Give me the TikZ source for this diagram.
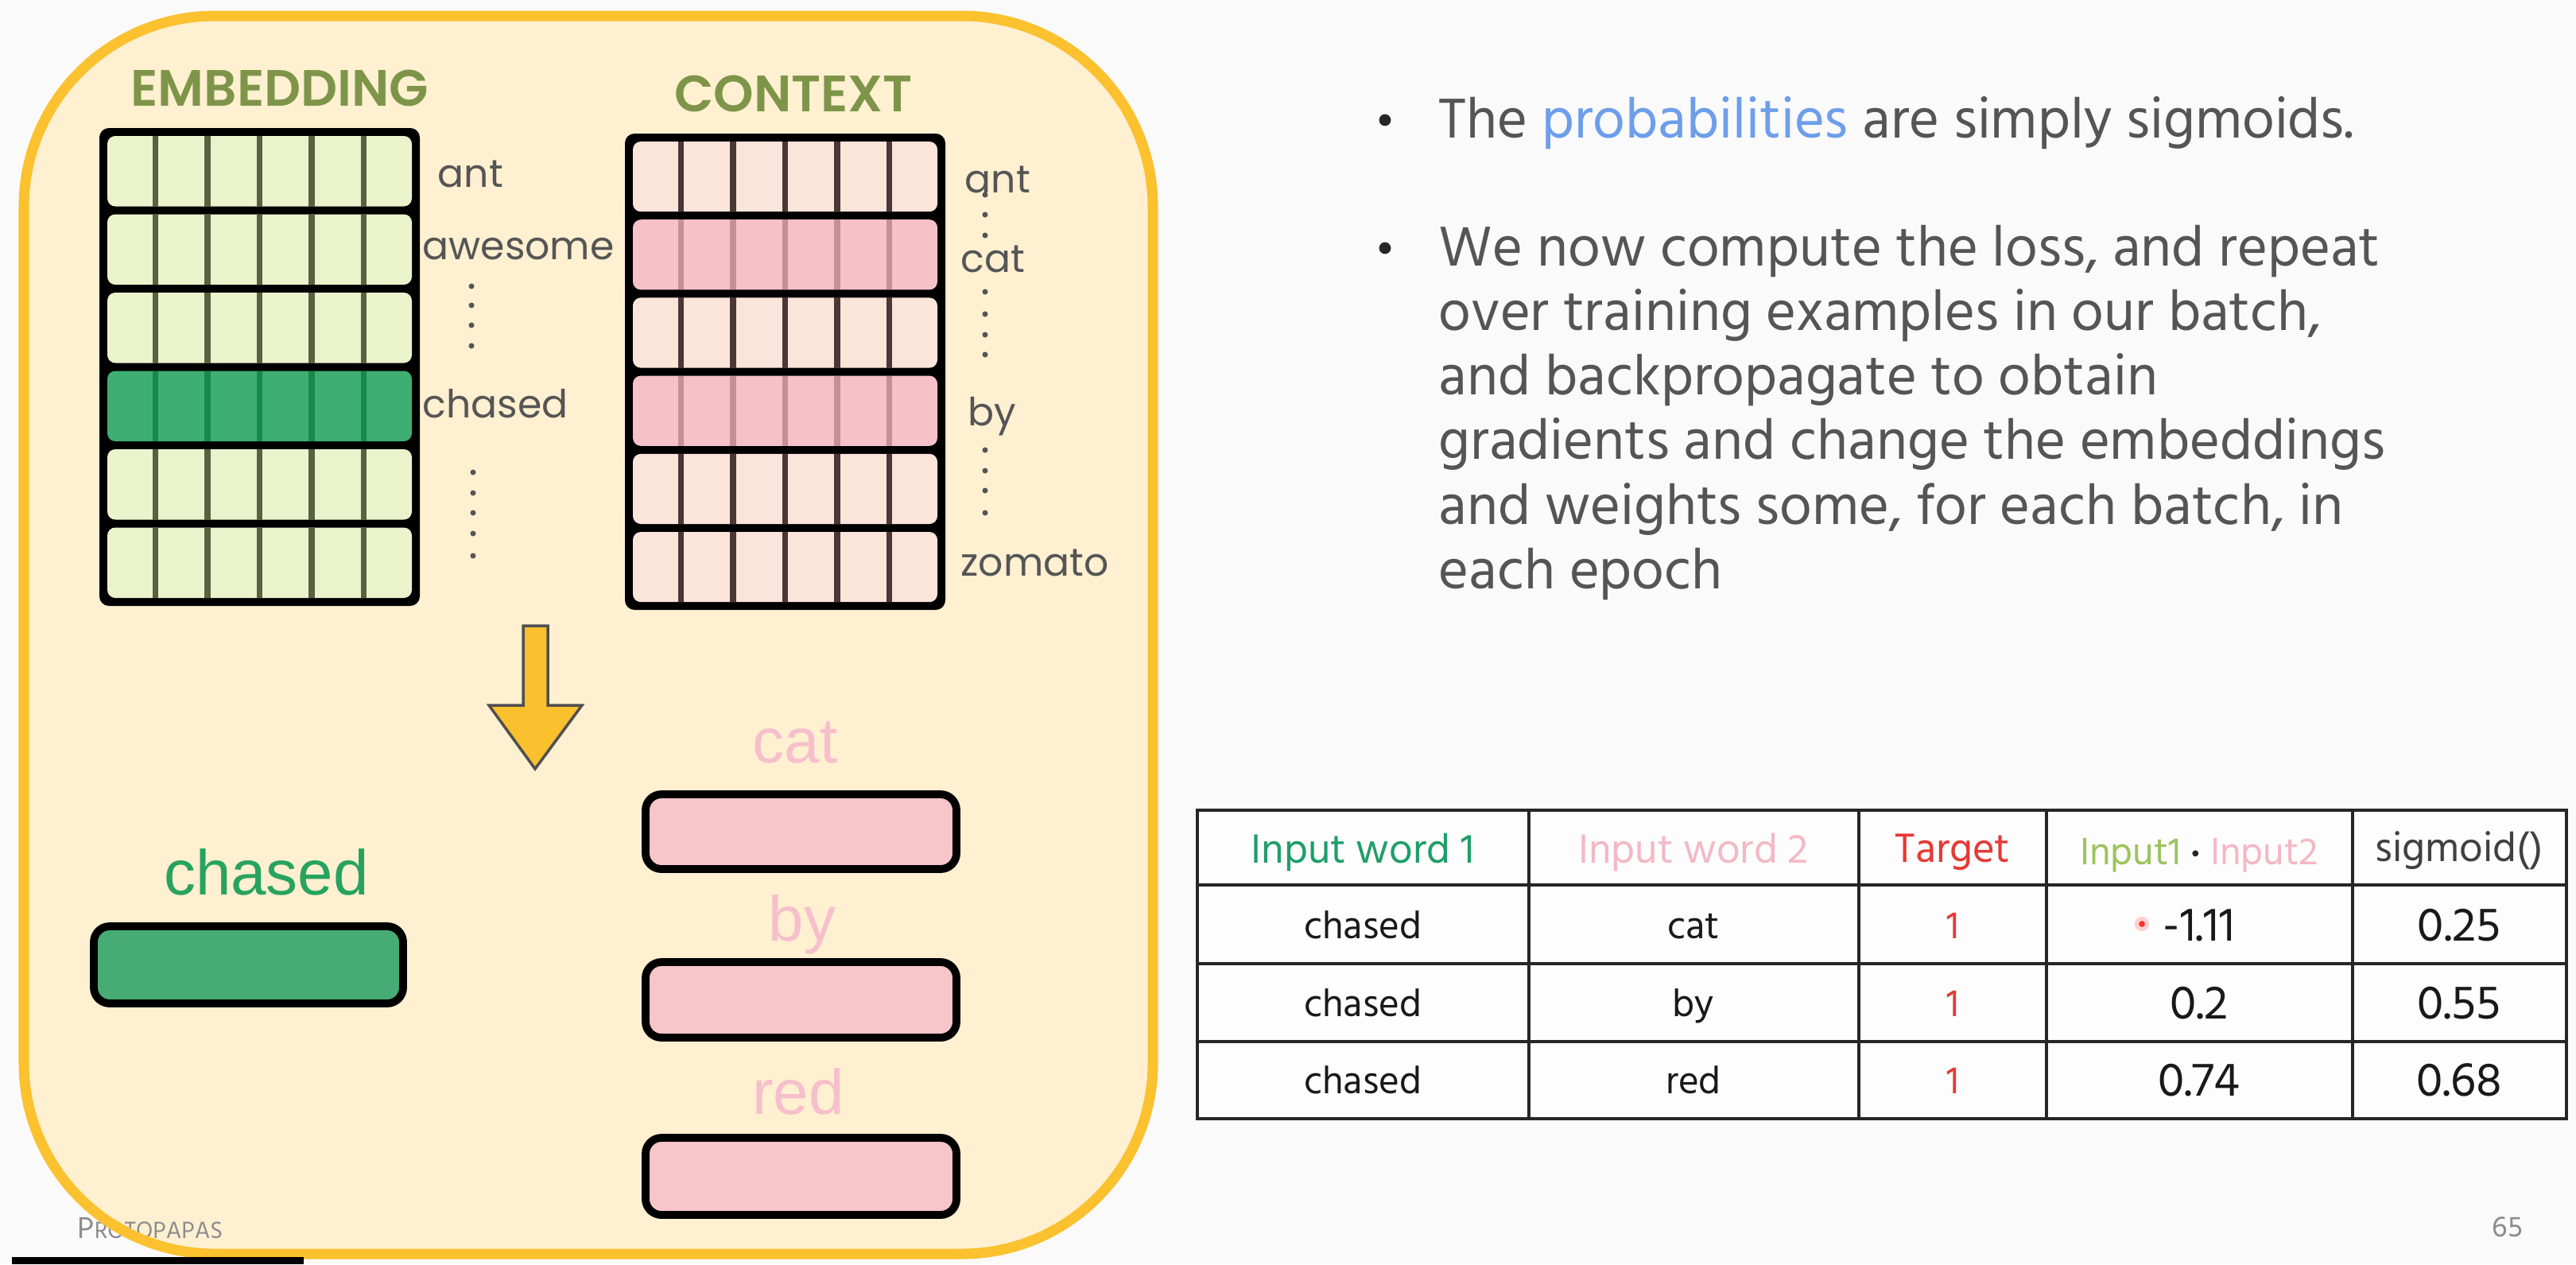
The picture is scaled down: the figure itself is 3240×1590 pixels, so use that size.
\documentclass[tikz,border=0pt]{standalone}
\usepackage{fontspec}
\newfontfamily\hind{Hind Madurai}
\newfontfamily\pop{Poppins}
\newfontfamily\popsb{Poppins SemiBold}
\newfontfamily\lib{Liberation Sans}
\definecolor{bg}{HTML}{FAFAFA}
\definecolor{boxfill}{HTML}{FEF0D1}
\definecolor{boxline}{HTML}{FBC12E}
\definecolor{embl}{HTML}{EBF3CD}
\definecolor{embd}{HTML}{3EAE73}
\definecolor{embdiv}{HTML}{5A6142}
\definecolor{embddiv}{HTML}{168A48}
\definecolor{ctxl}{HTML}{FBE5DA}
\definecolor{ctxp}{HTML}{F7C1C9}
\definecolor{ctxdiv}{HTML}{4A3838}
\definecolor{ctxpdiv}{HTML}{C98F99}
\definecolor{titleol}{HTML}{7E9549}
\definecolor{lblgray}{HTML}{555555}
\definecolor{chasedg}{HTML}{27A35F}
\definecolor{pinklbl}{HTML}{F6BFCB}
\definecolor{barpink}{HTML}{F8C5CB}
\definecolor{bargreen}{HTML}{46AC74}
\definecolor{arrowy}{HTML}{FBC02D}
\definecolor{arrowline}{HTML}{505050}
\definecolor{txt}{HTML}{555555}
\definecolor{probblue}{HTML}{6D9EEB}
\definecolor{hdrgreen}{HTML}{1E9E6A}
\definecolor{hdrpink}{HTML}{F4B8C5}
\definecolor{tred}{HTML}{E53935}
\definecolor{in1green}{HTML}{9DC35E}
\definecolor{footgray}{HTML}{8C8C8C}
\begin{document}
\begin{tikzpicture}[x=0.01cm,y=-0.01cm,
  lbl/.style={inner sep=0pt, anchor=base west, text=lblgray, font=\pop\fontsize{13.9pt}{17pt}\selectfont},
  title/.style={inner sep=0pt, anchor=base, text=titleol, font=\popsb\fontsize{18.3pt}{21pt}\selectfont},
  biglbl/.style={inner sep=0pt, anchor=base, font=\lib\fontsize{22.7pt}{26pt}\selectfont},
  bar/.style={line width=2.8pt, draw=black, rounded corners=0.2cm},
  bul/.style={inner sep=0pt, anchor=base west, text=txt, font=\hind\fontsize{20.6pt}{24pt}\selectfont},
  hdr/.style={inner sep=0pt, anchor=base, font=\hind\fontsize{15pt}{18pt}\selectfont},
  cell/.style={inner sep=0pt, anchor=base, text=black!90, font=\hind\fontsize{14pt}{16pt}\selectfont},
  num/.style={inner sep=0pt, anchor=base, text=black!90, font=\hind\fontsize{17.3pt}{20pt}\selectfont},
  vdot/.style={circle, fill=lblgray, inner sep=0pt, minimum size=2pt},
  bdot/.style={circle, fill=black!85, inner sep=0pt, minimum size=4.2pt},
  tline/.style={line width=0.9pt, draw=black!85},
  touter/.style={line width=1.3pt, draw=black!85}
]
\useasboundingbox (0,0) rectangle (3240,1590);
\fill[bg] (0,0) rectangle (3240,1590);

% yellow panel
\fill[boxfill, rounded corners=2.4cm] (30,20) rectangle (1450,1577);
% footer name (under the panel border)
\node[inner sep=0pt, anchor=base west, text=footgray, font=\hind] (foot) at (97,1557)
  {\fontsize{11pt}{13pt}\selectfont P\fontsize{8.6pt}{10pt}\selectfont ROTOPAPAS};
\draw[boxline, line width=3.7pt, rounded corners=2.4cm] (30,20) rectangle (1450,1577);

% titles
\node[title] (embtitle) at (352,133) {EMBEDDING};
\node[title] (ctxtitle) at (998,140) {CONTEXT};

% embedding matrix
\fill[black, rounded corners=0.12cm] (125,161) rectangle (528,762);
\foreach \r/\fc/\dc in {0/embl/embdiv,1/embl/embdiv,2/embl/embdiv,3/embd/embddiv,4/embl/embdiv,5/embl/embdiv}{
  \pgfmathsetmacro{\ya}{166+\r*98.5+5}
  \pgfmathsetmacro{\yb}{166+(\r+1)*98.5-5}
  \fill[\fc, rounded corners=0.1cm] (135,\ya) rectangle (518,\yb);
  \foreach \c in {1,...,5}{
    \pgfmathsetmacro{\xc}{130+\c*65.5}
    \draw[\dc, line width=2.2pt] (\xc,\ya) -- (\xc,\yb);
  }
}
% context matrix
\fill[black, rounded corners=0.12cm] (786,168) rectangle (1189,767);
\foreach \r/\fc/\dc in {0/ctxl/ctxdiv,1/ctxp/ctxpdiv,2/ctxl/ctxdiv,3/ctxp/ctxpdiv,4/ctxl/ctxdiv,5/ctxl/ctxdiv}{
  \pgfmathsetmacro{\ya}{173+\r*98.2+5}
  \pgfmathsetmacro{\yb}{173+(\r+1)*98.2-5}
  \fill[\fc, rounded corners=0.1cm] (796,\ya) rectangle (1179,\yb);
  \foreach \c in {1,...,5}{
    \pgfmathsetmacro{\xc}{791+\c*65.5}
    \draw[\dc, line width=2.2pt] (\xc,\ya) -- (\xc,\yb);
  }
}

% embedding labels
\node[lbl] (eant) at (550,235) {ant};
\node[lbl] (eawe) at (531,326) {awesome};
\node[lbl] (echa) at (531,525) {chased};
\foreach \y [count=\i] in {360,384,409,435}{\node[vdot] (ed1\i) at (593,\y) {};}
\foreach \y [count=\i] in {594,620,645,671,699}{\node[vdot] (ed2\i) at (595,\y) {};}
% context labels
\node[lbl] (cant) at (1213,242) {ant};
\node[lbl] (ccat) at (1208,342) {cat};
\node[lbl] (cby) at (1217,535) {by};
\node[lbl] (czom) at (1208,724) {zomato};
\foreach \y [count=\i] in {245,270,296}{\node[vdot] (cd1\i) at (1239,\y) {};}
\foreach \y [count=\i] in {367,395,421,446}{\node[vdot] (cd2\i) at (1239,\y) {};}
\foreach \y [count=\i] in {566,592,617,645}{\node[vdot] (cd3\i) at (1239,\y) {};}

% down arrow
\draw[fill=arrowy, draw=arrowline, line width=1pt, line join=miter]
  (658,787) -- (689,787) -- (689,887) -- (732,887) -- (673,967) -- (615,887) -- (658,887) -- cycle;

% bottom vectors
\node[biglbl, text=chasedg] (lchased) at (335,1125) {chased};
\draw[bar, fill=bargreen] (118,1165) rectangle (507,1262);
\node[biglbl, text=pinklbl] (lcat) at (1000,959) {cat};
\draw[bar, fill=barpink] (812,999) rectangle (1203,1093);
\node[biglbl, text=pinklbl] (lby) at (1009,1183) {by};
\draw[bar, fill=barpink] (812,1210) rectangle (1203,1305);
\node[biglbl, text=pinklbl] (lred) at (1004,1401) {red};
\draw[bar, fill=barpink] (812,1431) rectangle (1203,1528);

% bullets
\node[bdot] (b1) at (1742,151) {};
\node[bdot] (b2) at (1742,312) {};
\node[bul] (t1) at (1809,173) {The {\color{probblue}probabilities} are simply sigmoids.};
\node[bul] (t2) at (1809,334) {We now compute the loss, and repeat};
\node[bul] (t3) at (1809,415) {over training examples in our batch,};
\node[bul] (t4) at (1809,496) {and backpropagate to obtain};
\node[bul] (t5) at (1809,577) {gradients and change the embeddings};
\node[bul] (t6) at (1809,659) {and weights some, for each batch, in};
\node[bul] (t7) at (1809,740) {each epoch};

% table
\fill[white!60!bg] (1506,1019) rectangle (3228,1407);
\foreach \x in {1923,2338,2574,2959}{\draw[tline] (\x,1019) -- (\x,1407);}
\draw[line width=1.4pt, draw=black!85] (1506,1113) -- (3228,1113);
\foreach \y in {1212,1310}{\draw[tline] (1506,\y) -- (3228,\y);}
\draw[touter] (1506,1019) rectangle (3228,1407);

\node[hdr, text=hdrgreen] (h1) at (1714,1085) {Input word 1};
\node[hdr, text=hdrpink] (h2) at (2130,1085) {Input word 2};
\node[hdr, text=tred] (h3) at (2456,1084) {Target};
\node[hdr, font=\hind\fontsize{14pt}{16pt}\selectfont] (h4) at (2766,1087)
  {{\color{in1green}Input1} {\color{black!85}\bfseries·} {\color{hdrpink}Input2}};
\node[hdr, text=black!75] (h5) at (3093,1083) {sigmoid()};

\foreach \y/\w/\n/\s [count=\i] in {1180/cat/-1.11/0.25, 1278/by/0.2/0.55, 1375/red/0.74/0.68}{
  \node[cell] (r\i a) at (1714,\y) {chased};
  \node[cell] (r\i b) at (2130,\y) {\w};
  \node[cell, text=tred] (r\i c) at (2456,\y) {1};
  \node[num] (r\i d) at (2766,\y+3) {\n};
  \node[num] (r\i e) at (3093,\y+3) {\s};
}
% laser pointer dot
\fill[red!30, opacity=0.6] (2694,1162) circle (2.6pt);
\fill[red!80] (2694,1162) circle (1.1pt);

% page number and bottom strip
\node[inner sep=0pt, anchor=base, text=footgray, font=\hind\fontsize{10.5pt}{12pt}\selectfont] (pg) at (3154,1555) {65};
\fill[black] (15,1581) rectangle (382,1590);
\end{tikzpicture}
\end{document}
